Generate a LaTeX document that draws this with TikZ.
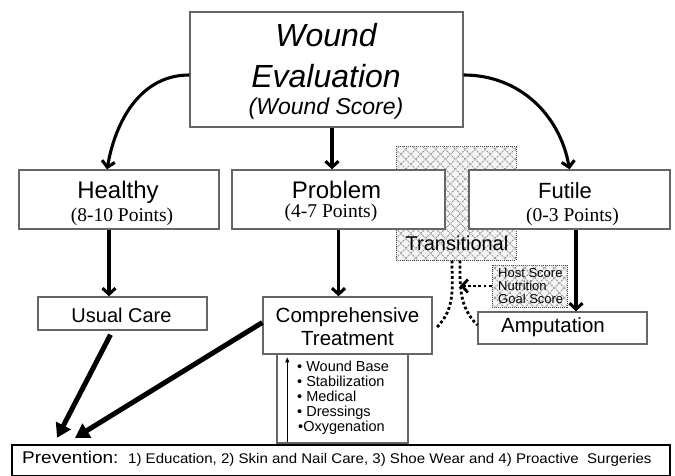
\documentclass[tikz,border=0pt]{standalone}
\usepackage{fontspec}
\setmainfont{Liberation Sans}
\newfontfamily\serifface{Liberation Serif}
\usetikzlibrary{arrows.meta,patterns.meta}
\newcommand\setfs[1]{\fontsize{#1}{#1}\selectfont}
\begin{document}
\begin{tikzpicture}[x=1pt,y=1pt,
  box/.style={draw=black!60, line width=1.4pt, fill=white, inner sep=0pt},
  txt/.style={anchor=base, inner sep=0pt},
  ltxt/.style={anchor=base west, inner sep=0pt},
  arr/.style={line width=3.1pt, -{Straight Barb[length=6pt,width=13pt]}},
  bigarr/.style={line width=5pt, -{Triangle[length=14pt,width=16pt]}},
  dots/.style={line width=2.8pt, dash pattern=on 2.8pt off 2.4pt},
  hatch/.style={draw=black!75, line width=1pt, dash pattern=on 1pt off 1pt, fill=black!4, inner sep=0pt,
     postaction={pattern={Lines[angle=45,distance=7pt,line width=0.7pt]}, pattern color=black!50},
     postaction={pattern={Lines[angle=-45,distance=7pt,line width=0.7pt]}, pattern color=black!50}},
]
\useasboundingbox (0,0) rectangle (675,-476);

% transitional hatched region (behind boxes)
\node[hatch, minimum width=120pt, minimum height=113pt] (trans) at (456,-203.5) {};

% boxes
\node[box, minimum width=273pt, minimum height=115pt] (we) at (326.5,-69.5) {};
\node[box, minimum width=200pt, minimum height=59pt] (healthy) at (119,-199.5) {};
\node[box, minimum width=213pt, minimum height=59pt] (problem) at (338.5,-199.5) {};
\node[box, minimum width=201pt, minimum height=59pt] (futile) at (569.5,-199.5) {};
\node[hatch, minimum width=75pt, minimum height=42pt] (host) at (529.5,-286) {};
\node[box, minimum width=169pt, minimum height=33pt] (usual) at (122.5,-313.5) {};
\node[box, minimum width=131pt, minimum height=89pt] (list) at (342.5,-398.5) {};
\node[box, minimum width=169pt, minimum height=57pt] (comp) at (347.5,-325.5) {};
\node[box, minimum width=169pt, minimum height=32pt] (amp) at (562.5,-328) {};
\node[draw=black, line width=2.2pt, fill=white, inner sep=0pt, minimum width=658pt, minimum height=31pt] (prev) at (341,-460.5) {};

% texts
\node[txt, font=\setfs{32}\itshape] (we1) at (326,-47) {Wound};
\node[txt, font=\setfs{32}\itshape] (we2) at (326,-88) {Evaluation};
\node[txt, font=\setfs{23}\itshape] (we3) at (326,-115) {(Wound Score)};
\node[txt, font=\setfs{24}] (h1) at (118,-199) {Healthy};
\node[txt, font=\serifface\setfs{19.5}] (h2) at (122,-221) {(8-10 Points)};
\node[txt, font=\setfs{24}] (p1) at (336.5,-198) {Problem};
\node[txt, font=\serifface\setfs{19.5}] (p2) at (331,-218) {(4-7 Points)};
\node[txt, font=\setfs{22}] (f1) at (565,-198) {Futile};
\node[txt, font=\serifface\setfs{19.5}] (f2) at (572.5,-221) {(0-3 Points)};
\node[txt, font=\setfs{20}] (t1) at (457,-250) {Transitional};
\node[ltxt, font=\setfs{13}] (hs1) at (498,-277) {Host Score};
\node[ltxt, font=\setfs{13}] (hs2) at (498,-290) {Nutrition};
\node[ltxt, font=\setfs{13}] (hs3) at (498,-303) {Goal Score};
\node[txt, font=\setfs{20}] (u1) at (121.5,-322) {Usual Care};
\node[txt, font=\setfs{20.5}] (c1) at (347.5,-322) {Comprehensive};
\node[txt, font=\setfs{20.5}] (c2) at (347.5,-345) {Treatment};
\node[txt, font=\setfs{20.5}] (a1) at (553,-332) {Amputation};
\node[ltxt, font=\setfs{14.5}] (l1) at (297,-371) {• Wound Base};
\node[ltxt, font=\setfs{14.5}] (l2) at (297,-386) {• Stabilization};
\node[ltxt, font=\setfs{14.5}] (l3) at (297,-401) {• Medical};
\node[ltxt, font=\setfs{14.5}] (l4) at (297,-416) {• Dressings};
\node[ltxt, font=\setfs{14.5}] (l5) at (298,-431) {•Oxygenation};
\node[ltxt, font=\setfs{17}] (pv1) at (22,-463) {\scalebox{1.12}[1]{Prevention:}};
\node[ltxt, font=\setfs{14}] (pv2) at (128,-463) {\scalebox{1.075}[1]{1) Education, 2) Skin and Nail Care, 3) Shoe Wear and 4) Proactive\ \ Surgeries}};

% connectors
\draw[arr] ([yshift=-5.5pt]we.west) to[out=180,in=80] ([xshift=-12pt]healthy.north);
\draw[arr] ([xshift=5.5pt]we.south) -- ([xshift=-6.5pt]problem.north);
\draw[arr] ([yshift=-5.5pt]we.east) to[out=0,in=100] (futile.north);
\draw[arr] ([xshift=-10pt]healthy.south) -- ([xshift=-10pt]healthy.south |- usual.north);
\draw[arr] (problem.south) -- (problem.south |- comp.north);
\draw[arr] ([xshift=6.5pt]futile.south) -- ([xshift=6.5pt]futile.south |- amp.north);
\draw[bigarr] ([xshift=-12pt,yshift=-4pt]usual.south) -- ([xshift=-284pt,yshift=6pt]prev.north);
\draw[bigarr] ([yshift=3pt]comp.west) -- ([xshift=-266pt,yshift=6pt]prev.north);
\draw[line width=1pt, -{Triangle[length=5pt,width=4pt]}] ([xshift=11pt,yshift=2pt]list.south west) -- ([xshift=11pt,yshift=-4pt]list.north west);

\draw[dots] ([xshift=-4pt]trans.south) to[out=-90,in=45] ([xshift=4pt,yshift=-2pt]comp.east);
\draw[dots] ([xshift=4pt]trans.south) to[out=-90,in=135] ([yshift=3pt]amp.west);
\coordinate (hostend) at (460,-286);
\draw[dots, -{Straight Barb[length=6pt,width=13pt,line width=2.8pt]}] (host.west) -- (hostend);
\end{tikzpicture}
\end{document}
